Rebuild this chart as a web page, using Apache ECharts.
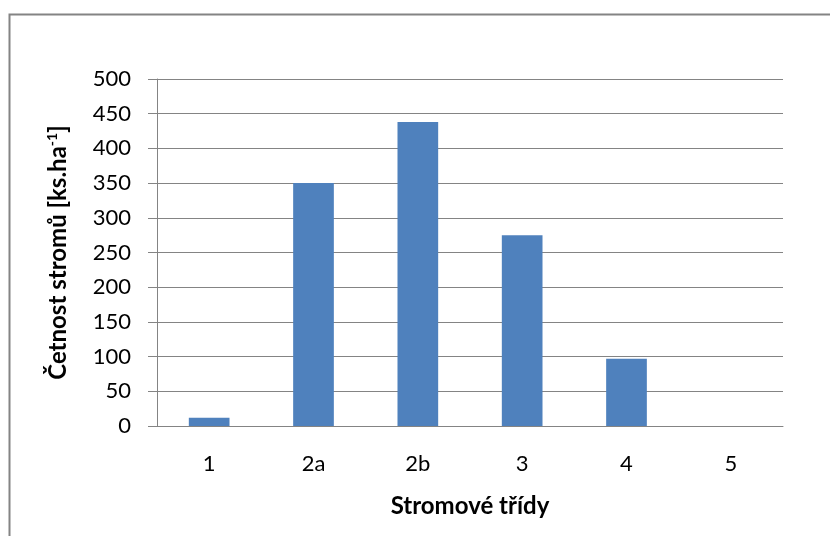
<!DOCTYPE html>
<html>
<head>
<meta charset="utf-8">
<script src="https://cdn.jsdelivr.net/npm/echarts@6/dist/echarts.min.js"></script>
<style>
  html, body { margin: 0; padding: 0; background: #fff; }
  #chart { width: 830px; height: 536px; }
</style>
</head>
<body>
<div id="chart"></div>
<script>
// Tree classes and stem counts per hectare
const categories = ['1', '2a', '2b', '3', '4', '5'];
const stemCounts = [12, 350, 438, 275, 97, 0];
const yTicks = { min: 0, max: 500, step: 50 };

const FONT = 'Lato, "Open Sans", sans-serif';
const GRAY = '#848484';

const chart = echarts.init(document.getElementById('chart'), null, { renderer: 'canvas' });

chart.setOption({
  backgroundColor: '#ffffff',
  animation: false,
  graphic: [{
    type: 'rect',
    left: 7,
    top: 12,
    shape: { x: 0, y: 0, width: 900, height: 600 },
    style: { fill: 'none', stroke: GRAY, lineWidth: 2 },
    silent: true
  }],
  grid: { left: 157, right: 47, top: 79, bottom: 110, containLabel: false },
  xAxis: {
    type: 'category',
    data: categories,
    name: 'Stromové třídy',
    nameLocation: 'middle',
    nameGap: 68,
    nameTextStyle: { fontFamily: FONT, fontWeight: 'bold', fontSize: 24, color: '#000' },
    axisLine: { show: true, lineStyle: { color: GRAY, width: 1 } },
    axisTick: { show: false },
    axisLabel: { fontFamily: FONT, fontSize: 22, color: '#000', margin: 27 },
    splitLine: { show: false }
  },
  yAxis: {
    type: 'value',
    min: yTicks.min,
    max: yTicks.max,
    interval: yTicks.step,
    name: 'Četnost stromů [ks.ha{sup|-1}]',
    nameLocation: 'middle',
    nameGap: 86,
    nameRotate: 90,
    nameTextStyle: {
      fontFamily: FONT, fontWeight: 'bold', fontSize: 24, color: '#000',
      rich: {
        sup: { fontFamily: FONT, fontWeight: 'bold', fontSize: 14, color: '#000', verticalAlign: 'top', padding: [0, 0, 12, 0] }
      }
    },
    axisLine: { show: true, lineStyle: { color: GRAY, width: 1 } },
    axisTick: { show: true, length: 9, lineStyle: { color: GRAY, width: 1 } },
    axisLabel: { fontFamily: FONT, fontSize: 22, color: '#000', margin: 26 },
    splitLine: { show: true, lineStyle: { color: GRAY, width: 1 } }
  },
  series: [{
    type: 'bar',
    data: stemCounts,
    barWidth: '39%',
    itemStyle: { color: '#4f81bd' }
  }]
});
</script>
</body>
</html>
